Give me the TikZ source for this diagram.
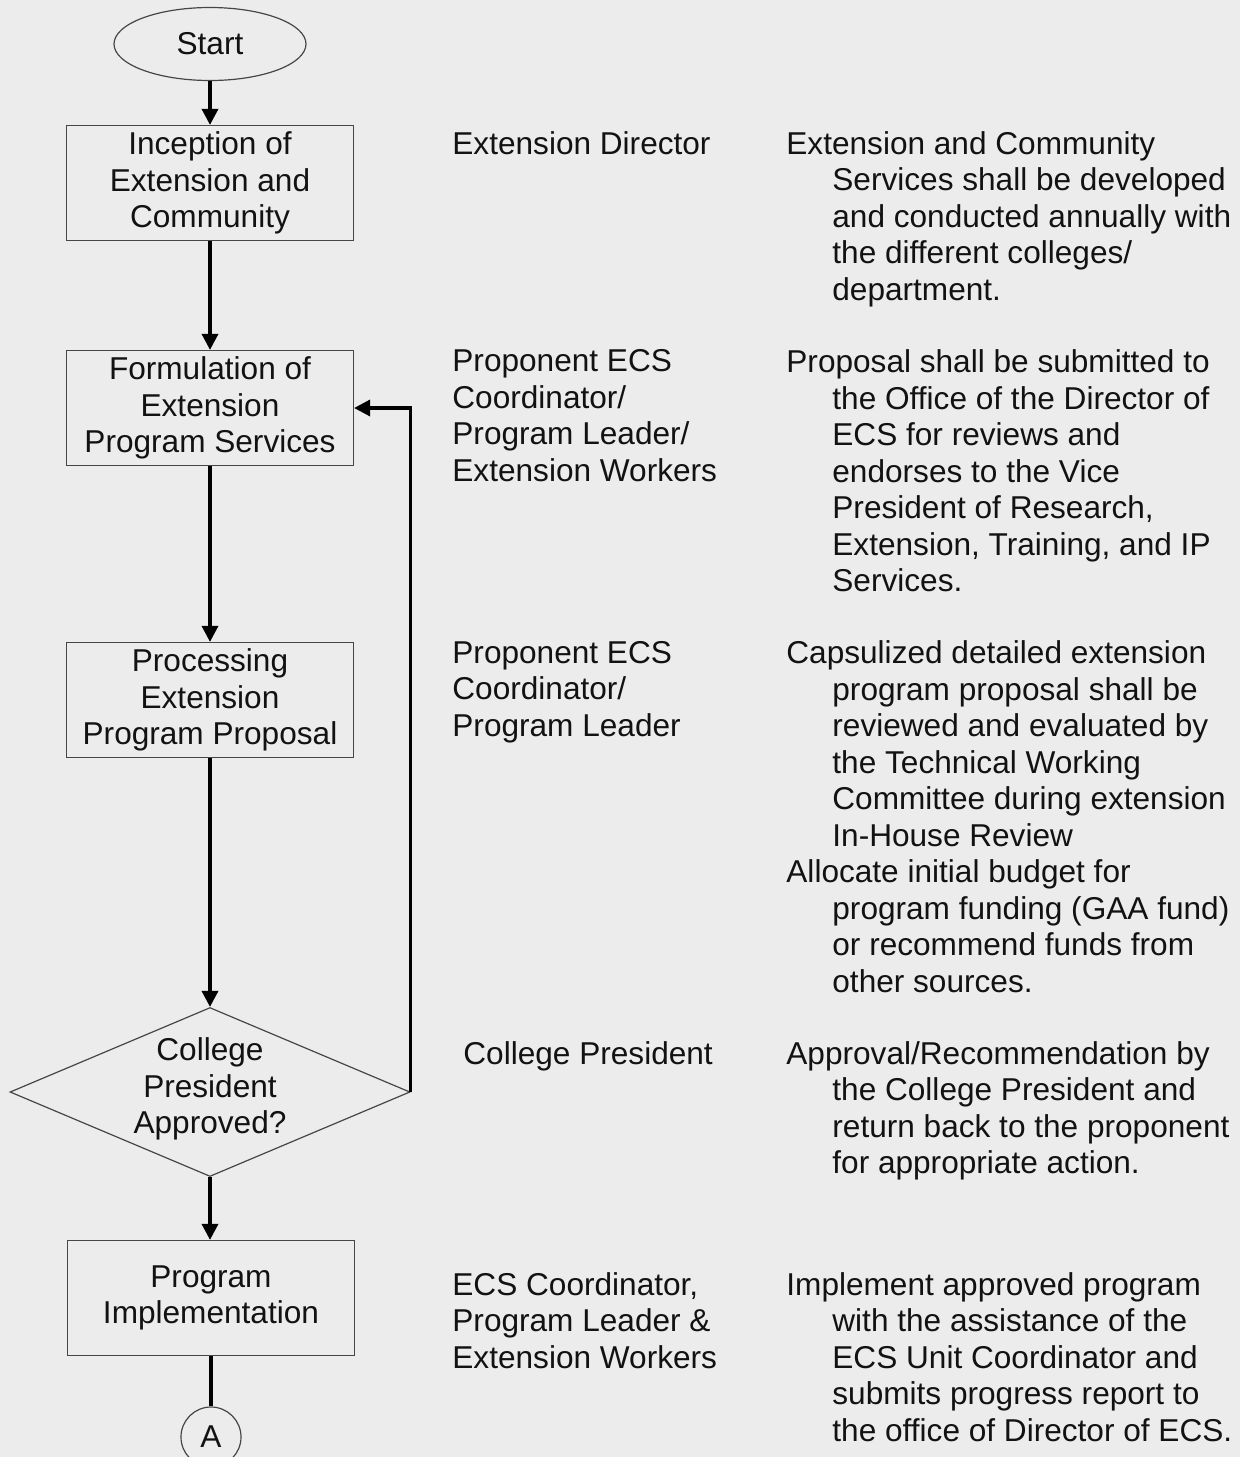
\documentclass[tikz,border=0pt]{standalone}
\usepackage{fontspec}
\setmainfont{Liberation Sans}
\usetikzlibrary{shapes.geometric,arrows.meta}
\definecolor{paper}{RGB}{236,236,236}
\definecolor{ink}{RGB}{18,18,18}
\definecolor{edge}{RGB}{70,70,70}
\newcommand\indentline{\hspace*{23pt}}
\begin{document}
\begin{tikzpicture}[x=0.5pt,y=-0.5pt,
  every node/.style={font=\fontsize{15.8}{18.25}\selectfont, text=ink},
  stepbox/.style={draw=edge, line width=0.6pt, minimum width=143.5pt,
    minimum height=57.5pt, align=center, inner sep=0pt},
  terminal/.style={draw=edge, line width=0.6pt, ellipse, minimum width=96pt,
    minimum height=36.5pt, inner sep=0pt},
  decision/.style={draw=edge, line width=0.6pt, diamond, minimum width=200pt,
    minimum height=84.5pt, inner sep=0pt},
  connector/.style={draw=edge, line width=0.6pt, circle, minimum size=30pt,
    inner sep=0pt},
  coltext/.style={anchor=north west, align=left, inner sep=0pt},
  arr/.style={draw=black, line width=1.7pt, -{Triangle[length=8pt,width=8pt]}},
  link/.style={draw=black, line width=1.7pt}
]
\clip (0,0) rectangle (1240,1457);
\fill[paper] (0,0) rectangle (1240,1457);

% flow chart column
\node[terminal] (start) at (210,44) {Start};
\node[stepbox] (inception) at (210,183) {Inception of\\Extension and\\Community};
\node[stepbox] (formulation) at (210,408) {Formulation of\\Extension\\Program Services};
\node[stepbox] (processing) at (210,700) {Processing\\Extension\\Program Proposal};
\node[decision] (approved) at (210,1092) {};
\node[align=center, inner sep=0pt] (approvedtext) at (210,1089) {College\\President\\Approved?};
\node[stepbox] (implementation) at (211,1298) {Program\\Implementation};
\node[connector] (pageA) at (211,1437) {A};

\draw[arr] (start) -- (inception);
\draw[arr] (inception) -- (formulation);
\draw[arr] (formulation) -- (processing);
\draw[arr] (processing) -- (approved);
\draw[arr] (approved.south) -- (approved.south |- implementation.north);
\draw[link] (implementation) -- (pageA);
\draw[arr] (approved.east) |- (formulation.east);

% responsible persons
\node[coltext] (who1) at (452,131) {Extension Director};
\node[coltext] (who2) at (452,349.5) {Proponent ECS\\Coordinator/\\Program Leader/\\Extension Workers};
\node[coltext] (who3) at (452,641) {Proponent ECS\\Coordinator/\\Program Leader};
\node[coltext] (who4) at (463,1041) {College President};
\node[coltext] (who5) at (452,1272) {ECS Coordinator,\\Program Leader \&\\Extension Workers};

% descriptions
\node[coltext] (what1) at (786,131) {Extension and Community\\
  \indentline Services shall be developed\\
  \indentline and conducted annually with\\
  \indentline the different colleges/\\
  \indentline department.};
\node[coltext] (what2) at (786,349.5) {Proposal shall be submitted to\\
  \indentline the Office of the Director of\\
  \indentline ECS for reviews and\\
  \indentline endorses to the Vice\\
  \indentline President of Research,\\
  \indentline Extension, Training, and IP\\
  \indentline Services.};
\node[coltext] (what3) at (786,640.5) {Capsulized detailed extension\\
  \indentline program proposal shall be\\
  \indentline reviewed and evaluated by\\
  \indentline the Technical Working\\
  \indentline Committee during extension\\
  \indentline In-House Review\\
  Allocate initial budget for\\
  \indentline program funding (GAA fund)\\
  \indentline or recommend funds from\\
  \indentline other sources.};
\node[coltext] (what4) at (786,1041) {Approval/Recommendation by\\
  \indentline the College President and\\
  \indentline return back to the proponent\\
  \indentline for appropriate action.};
\node[coltext] (what5) at (786,1272) {Implement approved program\\
  \indentline with the assistance of the\\
  \indentline ECS Unit Coordinator and\\
  \indentline submits progress report to\\
  \indentline the office of Director of ECS.};
\end{tikzpicture}
\end{document}
